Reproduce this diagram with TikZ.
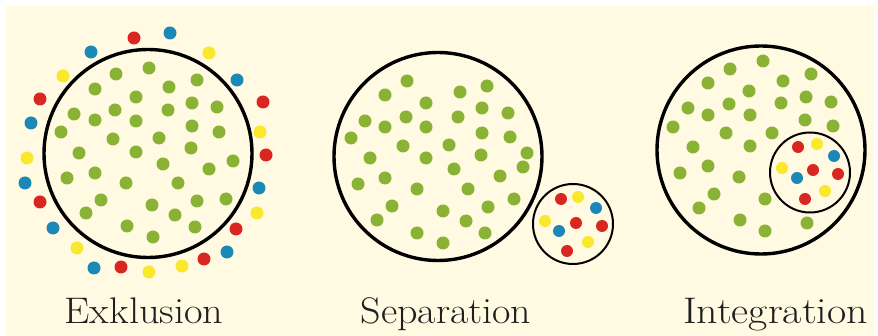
\documentclass[tikz,border=0pt]{standalone}
\usepackage{tikz}
\definecolor{cream}{RGB}{255,250,225}
\definecolor{dgreen}{RGB}{138,178,52}
\definecolor{dred}{RGB}{218,38,32}
\definecolor{dblue}{RGB}{28,136,184}
\definecolor{dyellow}{RGB}{250,232,45}
\tikzset{
  big/.style={draw=black,line width=3.4pt},
  small/.style={draw=black,line width=2pt},
  lbl/.style={font=\fontsize{37}{40}\selectfont,anchor=base,inner sep=0pt,text=black!88},
}
\begin{document}
\begin{tikzpicture}[x=1pt,y=-1pt]
\useasboundingbox (0,0) rectangle (878,336);
\fill[white] (0,0) rectangle (878,336);
\fill[cream] (6,6) rectangle (874,336);
% ---------- Exklusion ----------
\draw[big] (148,153.5) circle (104);
\foreach \x/\y in {149/68,116/74,197/80,95/89,169/87,136/97,192/103,217/107,74/114,115/110,168/110,95/120,136/121,192/126,61/132,219/132,113/139,159/138,191/148,79/153,136/152,233/161,163/164,209/169,67/178,95/173,126/183,178/183,101/200,197/201,226/199,152/205,86/213,175/215,127/226,195/227,153/237}
  \fill[dgreen] (\x,\y) circle (6.5);
\foreach \x/\y in {134/38,40/99,263/102,266/155,40/202,236/229,121/267,204/259}
  \fill[dred] (\x,\y) circle (6.5);
\foreach \x/\y in {170/33,91/52,237/80,31/123,25/183,259/188,53/228,227/252,94/268}
  \fill[dblue] (\x,\y) circle (6.5);
\foreach \x/\y in {209/53,63/76,260/132,27/158,257/213,77/248,149/272,182/266}
  \fill[dyellow] (\x,\y) circle (6.5);
% ---------- Separation ----------
\draw[big] (438,156.5) circle (104);
\foreach \x/\y in {407/81,385/95,460/92,487/86,426/103,482/108,508/113,365/121,406/117,458/117,385/127,426/127,482/133,351/138,510/137,403/146,449/145,481/155,527/153,523/167,370/158,426/158,454/169,500/176,358/184,385/178,417/189,468/189,514/199,392/206,488/207,443/211,377/220,466/221,417/233,485/233,443/243}
  \fill[dgreen] (\x,\y) circle (6.5);
\draw[small] (573,224) circle (40);
\foreach \x/\y in {561/199,576/223,602/226,567/251}
  \fill[dred] (\x,\y) circle (6);
\foreach \x/\y in {596/208,559/231}
  \fill[dblue] (\x,\y) circle (6);
\foreach \x/\y in {578/197,545/221,588/242}
  \fill[dyellow] (\x,\y) circle (6);
% ---------- Integration ----------
\draw[big] (761,150) circle (104);
\foreach \x/\y in {763/61,730/69,811/74,708/83,783/81,749/91,806/97,831/102,688/108,729/104,781/103,708/115,750/115,805/120,833/126,673/127,726/133,772/133,693/147,750/146,680/173,708/166,739/177,714/194,765/199,699/208,740/220,807/223,765/231}
  \fill[dgreen] (\x,\y) circle (6.5);
\draw[small] (810,172.5) circle (40);
\foreach \x/\y in {798/147,813/170,838/174,805/199}
  \fill[dred] (\x,\y) circle (6);
\foreach \x/\y in {834/156,797/178}
  \fill[dblue] (\x,\y) circle (6);
\foreach \x/\y in {817/144,782/168,825/191}
  \fill[dyellow] (\x,\y) circle (6);
% ---------- labels ----------
\node[lbl] (l1) at (144,324) {\scalebox{1.09}[1]{Exklusion}};
\node[lbl] (l2) at (446,324) {\scalebox{1.08}[1]{Separation}};
\node[lbl] (l3) at (775.5,324) {\scalebox{1.13}[1]{Integration}};
\end{tikzpicture}
\end{document}
